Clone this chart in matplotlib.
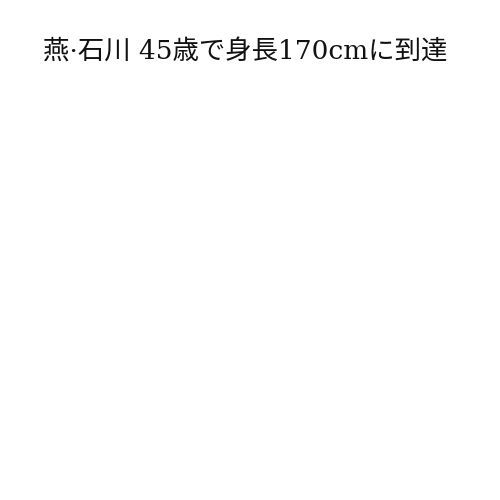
import matplotlib
matplotlib.use("Agg")
import matplotlib.pyplot as plt

title = "燕·石川 45歳で身長170cmに到達"

fig = plt.figure(figsize=(5, 5), dpi=100)
ax = fig.add_axes([0.1, 0.1, 0.8, 0.75])
ax.axis("off")

fig.text(0.49, 0.898, title, ha="center", va="center", fontsize=19,
         family=["DejaVu Serif", "Noto Sans CJK JP"], color="#111111")

fig.savefig("out.png", dpi=100, facecolor="white")
